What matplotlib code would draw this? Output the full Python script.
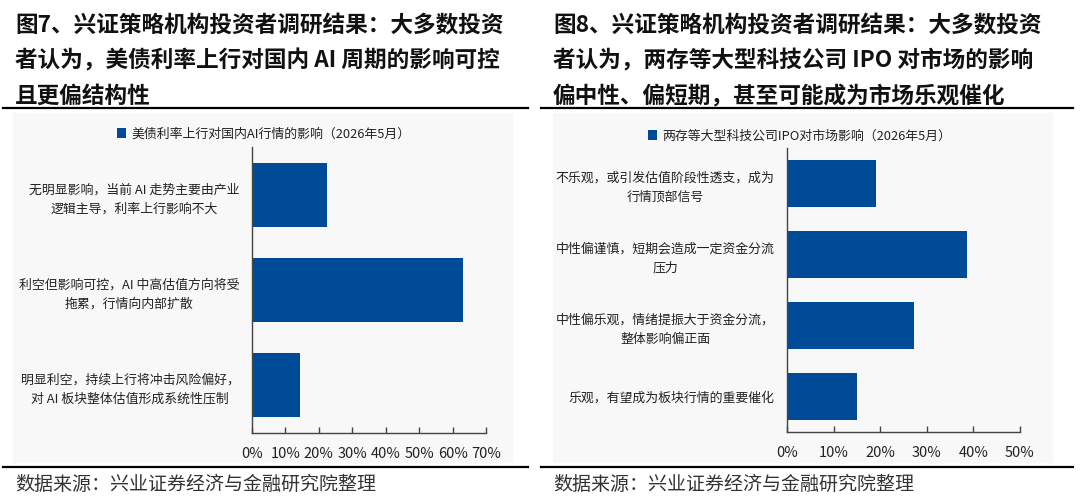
import matplotlib.pyplot as plt
from matplotlib.patches import Rectangle
from matplotlib.lines import Line2D

plt.rcParams['font.family'] = ['Noto Sans CJK SC', 'DejaVu Sans']

# chart 7 data
cats7 = ['无明显影响，当前 AI 走势主要由产业\n逻辑主导，利率上行影响不大',
         '利空但影响可控，AI 中高估值方向将受\n拖累，行情向内部扩散',
         '明显利空，持续上行将冲击风险偏好，\n对 AI 板块整体估值形成系统性压制']
vals7 = [22.4, 63.1, 14.5]
ticks7 = [0, 10, 20, 30, 40, 50, 60, 70]
legend7 = '美债利率上行对国内AI行情的影响（2026年5月）'
title7 = ['图7、兴证策略机构投资者调研结果：大多数投资',
          '者认为，美债利率上行对国内 AI 周期的影响可控',
          '且更偏结构性']

# chart 8 data
cats8 = ['不乐观，或引发估值阶段性透支，成为\n行情顶部信号',
         '中性偏谨慎，短期会造成一定资金分流\n压力',
         '中性偏乐观，情绪提振大于资金分流，\n整体影响偏正面',
         '乐观，有望成为板块行情的重要催化']
vals8 = [19.0, 38.7, 27.2, 15.1]
ticks8 = [0, 10, 20, 30, 40, 50]
legend8 = '两存等大型科技公司IPO对市场影响（2026年5月）'
title8 = ['图8、兴证策略机构投资者调研结果：大多数投资',
          '者认为，两存等大型科技公司 IPO 对市场的影响',
          '偏中性、偏短期，甚至可能成为市场乐观催化']

source = '数据来源：兴业证券经济与金融研究院整理'
W, H = 1080, 501
blue = '#004B97'

fig = plt.figure(figsize=(W / 100, H / 100), dpi=100)
fig.patch.set_facecolor('white')


def px(x, y):
    return x / W, 1 - y / H


def panel(x0, x1, bg0, bg1, title, ax_box, cats, vals, ticks, legend, leg_xy):
    # background of chart area
    fig.patches.append(Rectangle(px(bg0, 462), (bg1 - bg0) / W, (462 - 113) / H,
                                 transform=fig.transFigure, color='#F8F8F8', zorder=-5))
    for y in (108, 467):
        fig.lines.append(Line2D([x0 / W, x1 / W], [1 - y / H] * 2, transform=fig.transFigure,
                                color='black', lw=1.6))
    for i, line in enumerate(title):
        fig.text(*px(x0 + 12, 26 + 35 * i), line, fontsize=16.3, fontweight='bold',
                 va='center', ha='left', color='#111111')
    fig.text(*px(x0 + 12, 484), source, fontsize=13.7, va='center', ha='left', color='#333333')

    l, t, r, b = ax_box
    ax = fig.add_axes([l / W, 1 - b / H, (r - l) / W, (b - t) / H])
    ax.patch.set_alpha(0)
    pos = list(range(len(cats)))
    ax.barh(pos, vals, height=0.67, color=blue, label=legend)
    ax.set_ylim(len(cats) - 0.5, -0.5)
    ax.set_xlim(ticks[0], ticks[-1])
    ax.set_xticks(ticks)
    ax.set_xticklabels([f'{t}%' for t in ticks], fontsize=10.5, color='#222222')
    ax.set_yticks(pos)
    ax.set_yticklabels(cats, fontsize=9.3, color='#222222', linespacing=1.6)
    for lab in ax.get_yticklabels():
        lab.set_multialignment('center')
    ax.tick_params(axis='y', length=0, pad=9)
    ax.tick_params(axis='x', direction='in', length=4, width=1, pad=10, color='#444444')
    for s in ('top', 'right'):
        ax.spines[s].set_visible(False)
    for s in ('left', 'bottom'):
        ax.spines[s].set_color('#444444')
        ax.spines[s].set_linewidth(1)
    ax.legend(loc='center', bbox_to_anchor=px(*leg_xy), bbox_transform=fig.transFigure,
              frameon=False, fontsize=9.3, handlelength=0.7, handleheight=0.7,
              handletextpad=0.4, labelcolor='#222222')
    return ax


panel(3, 528, 13, 512, title7, (252, 147, 486, 433), cats7, vals7, ticks7, legend7, (264, 134))
panel(541, 1073, 553, 1052, title8, (787, 148, 1020, 432), cats8, vals8, ticks8, legend8, (800, 136))

fig.savefig('out.png', dpi=100)
